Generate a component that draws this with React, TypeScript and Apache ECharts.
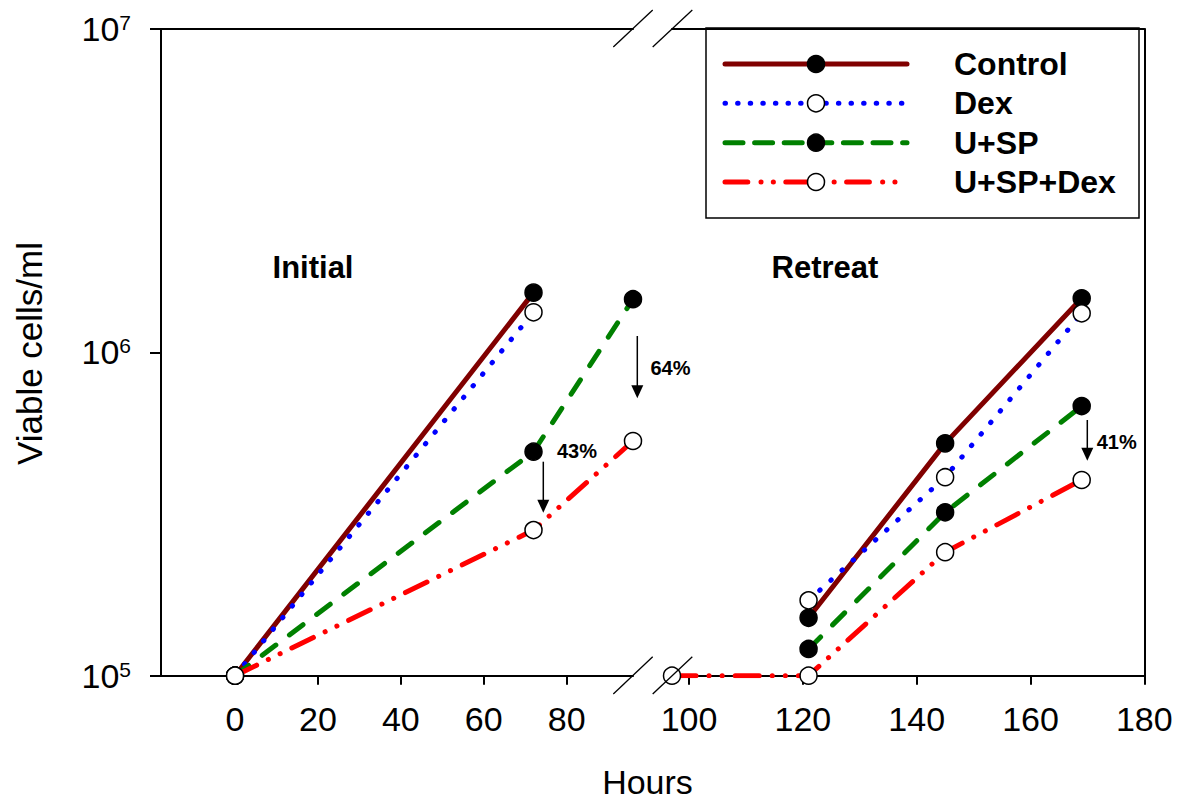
import React, { useEffect, useRef } from 'react';
import * as echarts from 'echarts';

// ---------- data ----------
const seriesNames = ['Control', 'Dex', 'U+SP', 'U+SP+Dex'];
const initialHours = [0, 72, 96];
const controlInitial = [1.0e5, 1.53e6, null];
const dexInitial = [1.0e5, 1.33e6, null];
const uspInitial = [1.0e5, 4.93e5, 1.46e6];
const uspDexInitial = [1.0e5, 2.82e5, 5.32e5];

const retreatHours = [97, 121, 145, 169];
const controlRetreat = [null, 1.51e5, 5.23e5, 1.47e6];
const dexRetreat = [null, 1.71e5, 4.11e5, 1.32e6];
const uspRetreat = [null, 1.21e5, 3.2e5, 6.82e5];
const uspDexRetreat = [1.0e5, 1.0e5, 2.41e5, 4.03e5];

const leftTicks = [0, 20, 40, 60, 80];
const rightTicks = [100, 120, 140, 160, 180];
const phaseLabels = ['Initial', 'Retreat'];
const reductionLabels = ['43%', '64%', '41%'];
const xTitle = 'Hours';
const yTitle = 'Viable cells/ml';

// ---------- styles ----------
const FONT = '"Liberation Sans", Arial, Helvetica, sans-serif';
const groupStyles = [
  { color: '#800000', dash: 'solid' as any, fill: '#000000', legendDash: null as any },
  { color: '#0000ff', dash: [0.5, 14.5], fill: '#ffffff', legendDash: [0.5, 12.1] },
  { color: '#008000', dash: [17, 17], fill: '#000000', legendDash: [18, 11.6] },
  { color: '#ff0000', dash: [24, 13, 0.1, 13, 0.1, 13], fill: '#ffffff', legendDash: [22.8, 13.2, 0.1, 12.2, 0.1, 12.4] },
];

const initialValues = [controlInitial, dexInitial, uspInitial, uspDexInitial];
const retreatValues = [controlRetreat, dexRetreat, uspRetreat, uspDexRetreat];

function pairs(xs: number[], ys: (number | null)[]) {
  const out: number[][] = [];
  xs.forEach((x, i) => {
    const y = ys[i];
    if (y != null) out.push([x, y]);
  });
  return out;
}

const GRID_TOP = 29;
const GRID_BOTTOM = 800 - 675.7;
const LEFT_MIN = -17.86;
const LEFT_MAX = 96;
const RIGHT_MIN = 97;
const RIGHT_MAX = 180;

export default function App() {
  const ref = useRef<HTMLDivElement>(null);

  useEffect(() => {
    if (!ref.current) return;
    const chart = echarts.init(ref.current, undefined, { renderer: 'svg' });

    const axisLine = { show: true, onZero: false, lineStyle: { color: '#000', width: 2 } };
    const tickLabel = { color: '#000', fontSize: 34, fontFamily: FONT };

    const series: any[] = [];
    seriesNames.forEach((name, i) => {
      const st = groupStyles[i];
      const base = {
        type: 'line',
        name,
        symbol: 'circle',
        symbolSize: 17,
        showAllSymbol: true,
        lineStyle: { color: st.color, width: 5, type: st.dash, cap: 'round', join: 'round' },
        itemStyle: { color: st.fill, borderColor: '#000', borderWidth: 1.5 },
        emphasis: { disabled: true },
        silent: true,
        z: 2 + i,
      };
      series.push({ ...base, xAxisIndex: 0, yAxisIndex: 0, data: pairs(initialHours, initialValues[i]) });
      series.push({ ...base, xAxisIndex: 1, yAxisIndex: 1, data: pairs(retreatHours, retreatValues[i]) });
    });

    // legend drawn as graphic
    const legendRows = [64, 103.3, 142.7, 182];
    const legendChildren: any[] = [
      { type: 'rect', shape: { x: 706, y: 28, width: 433, height: 190 }, style: { fill: '#fff', stroke: '#000', lineWidth: 1.5 } },
    ];
    seriesNames.forEach((name, i) => {
      const st = groupStyles[i];
      const y = legendRows[i];
      legendChildren.push({
        type: 'line',
        shape: { x1: 725, y1: y, x2: 907, y2: y },
        style: { stroke: st.color, lineWidth: 5, lineDash: st.legendDash || undefined, lineCap: 'round' },
      });
      legendChildren.push({
        type: 'circle',
        shape: { cx: 816, cy: y, r: 8.5 },
        style: { fill: st.fill, stroke: '#000', lineWidth: 1.5 },
      });
      legendChildren.push({
        type: 'text',
        x: 954,
        y,
        style: { text: name, fontSize: 32, fontWeight: 'bold', fontFamily: FONT, fill: '#000', verticalAlign: 'middle', align: 'left' },
      });
    });

    // break marks
    const breakLines = [
      [613.3, 47, 652.7, 10],
      [652.7, 47, 692.3, 10],
      [613.3, 694, 652.7, 656.7],
      [652.7, 694, 692.3, 656.7],
    ];
    const breakEls = breakLines.map((b) => ({
      type: 'line',
      shape: { x1: b[0], y1: b[1], x2: b[2], y2: b[3] },
      style: { stroke: '#000', lineWidth: 1.3 },
      z: 20,
    }));

    // reduction arrows: [x, yStart, yTip, labelX, labelY]
    const arrows = [
      [543.3, 461.7, 512.7, 577, 450.5],
      [637.3, 336, 398.3, 670.5, 368],
      [1087.3, 420, 460.7, 1116.7, 441.5],
    ];
    const arrowEls: any[] = [];
    arrows.forEach((a, i) => {
      arrowEls.push({
        type: 'line',
        shape: { x1: a[0], y1: a[1], x2: a[0], y2: a[2] - 10 },
        style: { stroke: '#000', lineWidth: 1.5 },
        z: 20,
      });
      arrowEls.push({
        type: 'polygon',
        shape: { points: [[a[0] - 6, a[2] - 13], [a[0] + 6, a[2] - 13], [a[0], a[2]]] },
        style: { fill: '#000' },
        z: 20,
      });
      arrowEls.push({
        type: 'text',
        x: a[3],
        y: a[4],
        style: { text: reductionLabels[i], fontSize: 20, fontWeight: 'bold', fontFamily: FONT, fill: '#000', align: 'center', verticalAlign: 'middle' },
        z: 20,
      });
    });

    const phasePos = [[313, 267.5], [825, 267.5]];
    const phaseEls = phaseLabels.map((t, i) => ({
      type: 'text',
      x: phasePos[i][0],
      y: phasePos[i][1],
      style: { text: t, fontSize: 31, fontWeight: 'bold', fontFamily: FONT, fill: '#000', align: 'center', verticalAlign: 'middle' },
    }));

    const titleEls = [
      {
        type: 'text',
        x: 647.5,
        y: 782,
        style: { text: xTitle, fontSize: 34, fontFamily: FONT, fill: '#000', align: 'center', verticalAlign: 'middle' },
      },
      {
        type: 'text',
        x: 29.5,
        y: 353.5,
        rotation: Math.PI / 2,
        style: { text: yTitle, fontSize: 35, fontFamily: FONT, fill: '#000', align: 'center', verticalAlign: 'middle' },
      },
    ];

    chart.setOption({
      animation: false,
      backgroundColor: '#ffffff',
      grid: [
        { left: 161, right: 1180 - 633, top: GRID_TOP, bottom: GRID_BOTTOM, containLabel: false },
        { left: 672, right: 1180 - 1144.3, top: GRID_TOP, bottom: GRID_BOTTOM, containLabel: false },
      ],
      xAxis: [
        {
          type: 'value', gridIndex: 0, min: LEFT_MIN, max: LEFT_MAX, position: 'bottom',
          axisLine, splitLine: { show: false },
          axisTick: { show: true, inside: false, length: 9, lineStyle: { color: '#000', width: 2 }, customValues: leftTicks },
          axisLabel: { ...tickLabel, margin: 26, customValues: leftTicks },
        },
        {
          type: 'value', gridIndex: 1, min: RIGHT_MIN, max: RIGHT_MAX, position: 'bottom',
          axisLine, splitLine: { show: false },
          axisTick: { show: true, inside: false, length: 9, lineStyle: { color: '#000', width: 2 }, customValues: rightTicks },
          axisLabel: { ...tickLabel, margin: 26, customValues: rightTicks },
        },
        {
          type: 'value', gridIndex: 0, min: LEFT_MIN, max: LEFT_MAX, position: 'top',
          axisLine, splitLine: { show: false }, axisTick: { show: false }, axisLabel: { show: false },
        },
        {
          type: 'value', gridIndex: 1, min: RIGHT_MIN, max: RIGHT_MAX, position: 'top',
          axisLine, splitLine: { show: false }, axisTick: { show: false }, axisLabel: { show: false },
        },
      ],
      yAxis: [
        {
          type: 'log', logBase: 10, gridIndex: 0, min: 1e5, max: 1e7, position: 'left',
          axisLine, splitLine: { show: false }, minorTick: { show: false },
          axisTick: { show: true, inside: false, length: 11, lineStyle: { color: '#000', width: 2 } },
          axisLabel: {
            margin: 30,
            formatter: (v: number) => `{b|10}{s|${Math.round(Math.log10(v))}}`,
            rich: {
              b: { fontSize: 34, fontFamily: FONT, color: '#000', verticalAlign: 'top', lineHeight: 34 },
              s: { fontSize: 21, fontFamily: FONT, color: '#000', verticalAlign: 'top', lineHeight: 34, padding: [0, 0, 12, 0] },
            },
          },
        },
        {
          type: 'log', logBase: 10, gridIndex: 1, min: 1e5, max: 1e7, position: 'right',
          axisLine, splitLine: { show: false }, axisTick: { show: false }, axisLabel: { show: false },
        },
      ],
      series,
      graphic: [
        ...breakEls,
        ...arrowEls,
        ...phaseEls,
        ...titleEls,
        { type: 'group', z: 30, children: legendChildren },
      ],
    });

    return () => chart.dispose();
  }, []);

  return (
    <div
      ref={ref}
      style={{ position: 'fixed', left: 0, top: 0, width: 1180, height: 800, background: '#fff' }}
    />
  );
}
